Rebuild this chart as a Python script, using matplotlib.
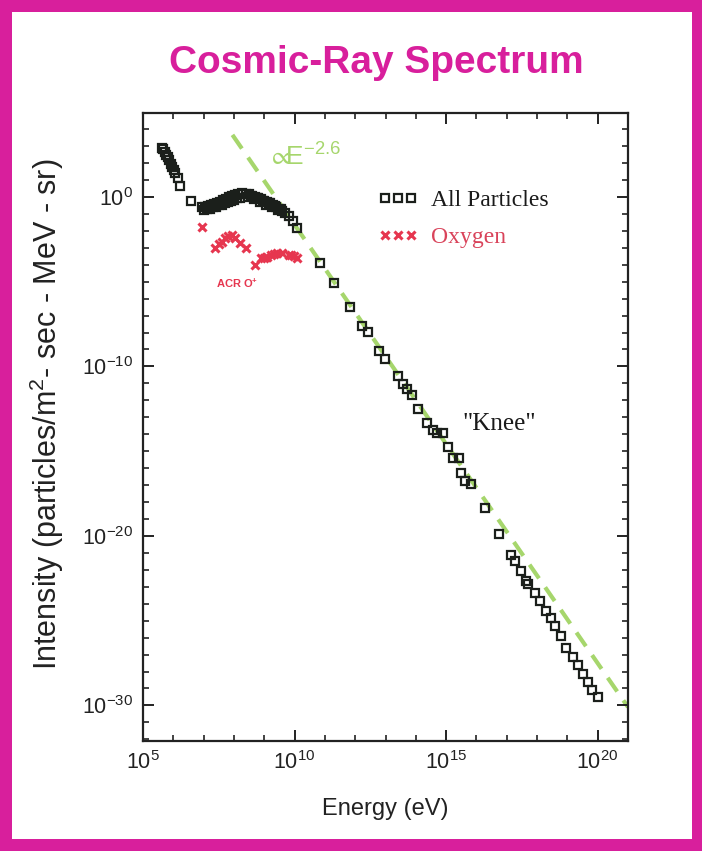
import matplotlib
matplotlib.use("Agg")
import matplotlib.pyplot as plt
from matplotlib.patches import Rectangle
import numpy as np

plt.rcParams['font.family'] = ['Liberation Sans', 'DejaVu Sans']
plt.rcParams['mathtext.default'] = 'regular'
plt.rcParams['axes.unicode_minus'] = False

# ---------------- data (log10 values) ----------------
all_logE = [5.62, 5.67, 5.72, 5.77, 5.82, 5.87, 5.92, 5.97, 6.02, 6.07, 6.14, 6.23, 6.59,
            6.95, 7.05, 7.15, 7.25, 7.35, 7.45, 7.55, 7.65, 7.75, 7.85, 7.95, 8.05, 8.15,
            8.27, 8.40, 8.50, 8.60, 8.70, 8.80, 8.90, 9.00, 9.10, 9.20, 9.30, 9.40, 9.50,
            9.60, 9.70, 9.81, 9.95, 10.09,
            7.00, 7.20, 7.40, 7.60, 7.80, 8.00, 8.20, 8.45, 8.65, 8.85, 9.05, 9.25, 9.45,
            7.10, 7.30, 7.50, 7.70, 7.90, 8.10, 8.55, 8.75, 8.95, 9.15, 9.35, 9.55,
            10.83, 11.30, 11.83, 12.22, 12.41, 12.79, 12.99, 13.40, 13.57, 13.71, 13.87,
            14.08, 14.37, 14.56, 14.70, 14.89, 15.06, 15.22, 15.44, 15.50, 15.61, 15.83,
            16.27, 16.74, 17.15, 17.26, 17.46, 17.65, 17.71, 17.92, 18.09, 18.31, 18.45,
            18.59, 18.78, 18.97, 19.20, 19.36, 19.53, 19.69, 19.80, 20.02]
all_logI = [2.91, 2.80, 2.66, 2.50, 2.33, 2.16, 1.97, 1.78, 1.58, 1.40, 1.14, 0.65, -0.24,
            -0.62, -0.60, -0.55, -0.47, -0.40, -0.35, -0.28, -0.20, -0.12, -0.03, 0.05, 0.12, 0.17,
            0.22, 0.20, 0.16, 0.08, 0.00, -0.08, -0.15, -0.22, -0.30, -0.38, -0.48, -0.60, -0.72,
            -0.83, -0.95, -1.12, -1.45, -1.81,
            -0.80, -0.70, -0.58, -0.45, -0.30, -0.16, -0.05, -0.02, -0.14, -0.30, -0.45, -0.62, -0.80,
            -0.70, -0.60, -0.48, -0.36, -0.22, -0.08, 0.05, -0.08, -0.22, -0.36, -0.52, -0.70,
            -3.88, -5.06, -6.50, -7.62, -7.96, -9.10, -9.59, -10.57, -11.03, -11.36, -11.71,
            -12.50, -13.33, -13.78, -13.90, -13.92, -14.77, -15.40, -15.43, -16.28, -16.77, -16.93,
            -18.35, -19.89, -21.10, -21.50, -22.09, -22.64, -22.84, -23.37, -23.86, -24.41, -24.85,
            -25.34, -25.93, -26.62, -27.17, -27.60, -28.16, -28.59, -29.08, -29.53]

oxy_logE = [6.94, 7.38, 7.50, 7.61, 7.72, 7.82, 7.94, 8.05, 8.21, 8.41, 8.71, 8.90, 8.98,
            9.05, 9.10, 9.21, 9.32, 9.43, 9.59, 9.80, 9.87, 9.98, 10.09]
oxy_logI = [-1.77, -2.99, -2.80, -2.64, -2.44, -2.30, -2.22, -2.44, -2.70, -2.99, -4.02, -3.62, -3.58,
            -3.52, -3.54, -3.43, -3.35, -3.29, -3.29, -3.40, -3.43, -3.48, -3.58]

# E^-2.6 guide line end points
fit_logE = [7.95, 21.0]
fit_logI = [3.66, -30.1]

x_tick_exps = [5, 10, 15, 20]
y_tick_exps = [0, -10, -20, -30]

series_labels = ['All Particles', 'Oxygen']

MAGENTA = '#d81f9c'
RED = '#e6364f'
GREEN = '#a6d66c'

# ---------------- figure ----------------
fig = plt.figure(figsize=(7.02, 8.51), dpi=100, facecolor=MAGENTA)
bg = Rectangle((12/702, 12/851), (692-12)/702, (839-12)/851,
               transform=fig.transFigure, facecolor='white', edgecolor='none')
bg.set_zorder(-10)
fig.add_artist(bg)

ax = fig.add_axes([143/702, 1-741/851, (628-143)/702, (741-113)/851])
ax.set_zorder(1)
ax.set_facecolor('white')
ax.set_xscale('log')
ax.set_yscale('log')
ax.set_xlim(1e5, 10**21.0)
ax.set_ylim(10**-32.1, 10**4.95)

E_all = 10.0**np.array(all_logE)
I_all = 10.0**np.array(all_logI)
E_oxy = 10.0**np.array(oxy_logE)
I_oxy = 10.0**np.array(oxy_logI)

ax.plot(10.0**np.array(fit_logE), 10.0**np.array(fit_logI), color=GREEN, lw=3.0,
        ls=(0, (4, 2.6)), zorder=1, solid_capstyle='butt')
h1, = ax.plot(E_all, I_all, ls='none', marker='s', ms=5.8, mew=1.6, mec='#1b1f1b',
              mfc='none', zorder=3, label=series_labels[0])
h2, = ax.plot(E_oxy, I_oxy, ls='none', marker='x', ms=6.0, mew=2.2, color=RED,
              zorder=3, label=series_labels[1])

# ticks
ax.set_xticks(10.0**np.array(x_tick_exps), [f'$10^{{{e}}}$' for e in x_tick_exps])
ax.set_yticks(10.0**np.array(y_tick_exps), [f'$10^{{{e}}}$' for e in y_tick_exps])
ax.xaxis.set_minor_locator(matplotlib.ticker.FixedLocator(10.0**np.arange(5, 22)))
ax.yaxis.set_minor_locator(matplotlib.ticker.FixedLocator(10.0**np.arange(-32, 5)))
ax.xaxis.set_minor_formatter(matplotlib.ticker.NullFormatter())
ax.yaxis.set_minor_formatter(matplotlib.ticker.NullFormatter())
ax.tick_params(which='both', direction='in', top=True, right=True, color='#222222')
ax.tick_params(which='major', length=8, width=1.4, labelsize=15.5, pad=7,
               labelcolor='#222222')
ax.tick_params(which='minor', length=4.5, width=1.2)
for s in ax.spines.values():
    s.set_linewidth(1.6)
    s.set_color('#222222')

ax.set_xlabel('Energy (eV)', fontsize=17, color='#222222')
ax.xaxis.set_label_coords(0.5, -0.09)
ax.set_ylabel('Intensity (particles/m$^{2}$- sec - MeV - sr)', fontsize=22, color='#222222')
ax.yaxis.set_label_coords(-0.158, 0.52)

# legend
leg = ax.legend(handles=[h1, h2], loc='upper left', bbox_to_anchor=(0.44, 0.912),
                numpoints=3, frameon=False, handlelength=1.7, handletextpad=0.55,
                labelspacing=0.65, markerscale=1.0,
                prop={'family': 'Liberation Serif', 'size': 17},
                labelcolor=['#1a1a1a', '#d9435a'])

# annotations
ax.text(10**15.55, 10**-13.4, '"Knee"', family='Liberation Serif', fontsize=18,
        ha='left', va='center', color='#1a1a1a')
ax.text(10**9.05, 10**2.35, r'$\propto\!\!$E$^{-2.6}$', fontsize=19, color=GREEN,
        ha='left', va='center')
ax.text(10**7.42, 10**-5.08, 'ACR O$^{+}$', fontsize=8, fontweight='bold', color=RED,
        ha='left', va='center')

fig.text(376/702, 1-63/851, 'Cosmic-Ray Spectrum', fontsize=28, fontweight='bold',
         color=MAGENTA, ha='center', va='center')

fig.savefig('out.png', dpi=100, facecolor=fig.get_facecolor())
